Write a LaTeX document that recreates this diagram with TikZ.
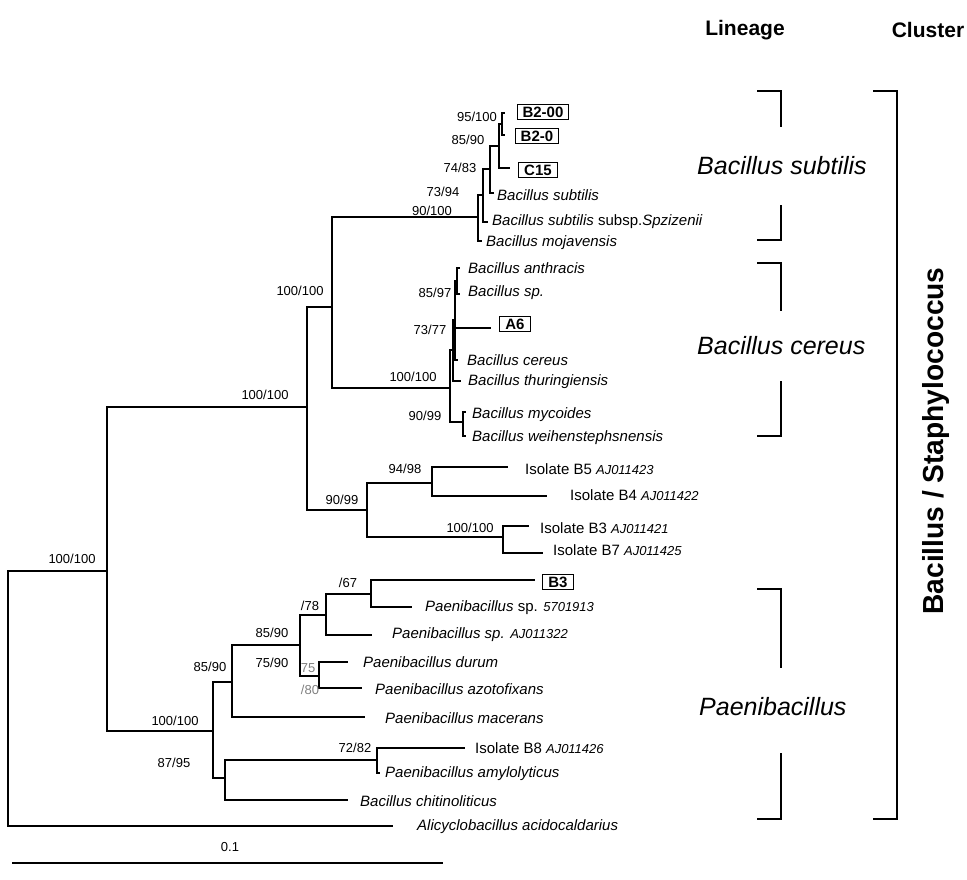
\documentclass[tikz,border=0pt]{standalone}
\usepackage{fontspec}
\setmainfont{Liberation Sans}
\usetikzlibrary{positioning}

\newcommand{\acc}[1]{{\fontsize{13}{15}\selectfont\itshape #1}}

\begin{document}
\begin{tikzpicture}[
  x=1pt, y=-1pt,
  br/.style={line width=1.4pt},
  leaf/.style={font=\fontsize{15}{17}\selectfont\itshape, inner sep=0pt, anchor=west},
  iso/.style={font=\fontsize{15}{17}\selectfont, inner sep=0pt, anchor=west},
  boot/.style={font=\fontsize{13}{15}\selectfont, inner sep=0pt},
  tag/.style={draw, line width=1pt, font=\fontsize{15}{17}\selectfont\bfseries, inner xsep=5.5pt, inner ysep=2.5pt},
  lin/.style={font=\fontsize{25}{29}\selectfont\itshape, inner sep=0pt, anchor=west},
  head/.style={font=\fontsize{21}{24}\selectfont\bfseries, inner sep=0pt},
  brk/.style={line width=1.3pt},
]

\useasboundingbox (0,0) rectangle (967,879);

% internal nodes of the tree
\coordinate (root) at (8,698);
\coordinate (nA) at (107,571);
\coordinate (nB) at (307,407);
\coordinate (nC) at (332,307);
\coordinate (n90) at (478,217);
\coordinate (n73) at (483,195);
\coordinate (n74) at (490,169);
\coordinate (n85) at (499,146);
\coordinate (n95) at (502,124);
\coordinate (ncer) at (450,388);
\coordinate (nU) at (453,350);
\coordinate (n73b) at (455,320);
\coordinate (n85b) at (457,281);
\coordinate (nmy) at (463,422);
\coordinate (nI) at (367,510);
\coordinate (nI1) at (432,483);
\coordinate (nI2) at (503,537);
\coordinate (nP) at (213,731);
\coordinate (nQ) at (232,682);
\coordinate (nS) at (300,645);
\coordinate (nT) at (326,615);
\coordinate (nV) at (371,594);
\coordinate (nW) at (319,676);
\coordinate (nL) at (225,778);
\coordinate (n8) at (377,760);

% leaf tips
\coordinate (t-b200) at (505,113);
\coordinate (t-b20) at (505,135);
\coordinate (t-c15) at (510,168);
\coordinate (t-bsub) at (494,193);
\coordinate (t-spz) at (488,222);
\coordinate (t-moj) at (482,241);
\coordinate (t-anth) at (460,268);
\coordinate (t-bsp) at (460,294);
\coordinate (t-a6) at (491,328);
\coordinate (t-cer) at (458,360);
\coordinate (t-thu) at (461,381);
\coordinate (t-myc) at (466,412);
\coordinate (t-wei) at (466,436);
\coordinate (t-b5) at (508,467);
\coordinate (t-b4) at (547,496);
\coordinate (t-b3) at (529,526);
\coordinate (t-b7) at (543,553);
\coordinate (t-tb3) at (535,580);
\coordinate (t-p57) at (412,607);
\coordinate (t-paj) at (372,635);
\coordinate (t-dur) at (348,662);
\coordinate (t-azo) at (362,688);
\coordinate (t-mac) at (365,717);
\coordinate (t-b8) at (465,748);
\coordinate (t-amy) at (380,773);
\coordinate (t-chi) at (348,800);
\coordinate (t-ali) at (393,826);

% branches
\draw [br] (root) |- (nA);
\draw [br] (root) |- (t-ali);
\draw [br] (nA) |- (nB);
\draw [br] (nA) |- (nP);
\draw [br] (nB) |- (nC);
\draw [br] (nB) |- (nI);
\draw [br] (nC) |- (n90);
\draw [br] (nC) |- (ncer);
\draw [br] (n90) |- (n73);
\draw [br] (n90) |- (t-moj);
\draw [br] (n73) |- (n74);
\draw [br] (n73) |- (t-spz);
\draw [br] (n74) |- (n85);
\draw [br] (n74) |- (t-bsub);
\draw [br] (n85) |- (n95);
\draw [br] (n85) |- (t-c15);
\draw [br] (n95) |- (t-b200);
\draw [br] (n95) |- (t-b20);
\draw [br] (ncer) |- (nU);
\draw [br] (ncer) |- (nmy);
\draw [br] (nU) |- (n73b);
\draw [br] (nU) |- (t-thu);
\draw [br] (n73b) |- (n85b);
\draw [br] (n73b) |- (t-a6);
\draw [br] (n73b) |- (t-cer);
\draw [br] (n85b) |- (t-anth);
\draw [br] (n85b) |- (t-bsp);
\draw [br] (nmy) |- (t-myc);
\draw [br] (nmy) |- (t-wei);
\draw [br] (nI) |- (nI1);
\draw [br] (nI) |- (nI2);
\draw [br] (nI1) |- (t-b5);
\draw [br] (nI1) |- (t-b4);
\draw [br] (nI2) |- (t-b3);
\draw [br] (nI2) |- (t-b7);
\draw [br] (nP) |- (nQ);
\draw [br] (nP) |- (nL);
\draw [br] (nQ) |- (nS);
\draw [br] (nQ) |- (t-mac);
\draw [br] (nS) |- (nT);
\draw [br] (nS) |- (nW);
\draw [br] (nT) |- (nV);
\draw [br] (nT) |- (t-paj);
\draw [br] (nV) |- (t-tb3);
\draw [br] (nV) |- (t-p57);
\draw [br] (nW) |- (t-dur);
\draw [br] (nW) |- (t-azo);
\draw [br] (nL) |- (n8);
\draw [br] (nL) |- (t-chi);
\draw [br] (n8) |- (t-b8);
\draw [br] (n8) |- (t-amy);

% leaf labels
\node [tag] (b200) at (543,112) {B2-00};
\node [tag] (b20) at (537,136) {B2-0};
\node [tag] (c15) at (538,170) {C15};
\node [leaf] (bsub) at (497,195) {Bacillus subtilis};
\node [leaf] (spz) at (492,222) {Bacillus subtilis \upshape subsp.\itshape Spzizenii};
\node [leaf] (moj) at (486,243) {Bacillus mojavensis};
\node [leaf] (anth) at (468,268) {Bacillus anthracis};
\node [leaf] (bsp) at (468,293) {Bacillus sp.};
\node [tag] (a6) at (515,324) {A6};
\node [leaf] (cer) at (467,360) {Bacillus cereus};
\node [leaf] (thu) at (468,382) {Bacillus thuringiensis};
\node [leaf] (myc) at (472,415) {Bacillus mycoides};
\node [leaf] (wei) at (472,438) {Bacillus weihenstephsnensis};
\node [iso] (b5) at (525,469) {Isolate B5 \acc{AJ011423}};
\node [iso] (b4) at (570,495) {Isolate B4 \acc{AJ011422}};
\node [iso] (b3) at (540,528) {Isolate B3 \acc{AJ011421}};
\node [iso] (b7) at (553,550) {Isolate B7 \acc{AJ011425}};
\node [tag] (tb3) at (558,582) {B3};
\node [leaf] (p57) at (425,608) {Paenibacillus \upshape sp. \acc{5701913}};
\node [leaf] (paj) at (392,635) {Paenibacillus sp. \acc{AJ011322}};
\node [leaf] (dur) at (363,662) {Paenibacillus durum};
\node [leaf] (azo) at (375,689) {Paenibacillus azotofixans};
\node [leaf] (mac) at (385,718) {Paenibacillus macerans};
\node [iso] (b8) at (475,748) {Isolate B8 \acc{AJ011426}};
\node [leaf] (amy) at (385,774) {Paenibacillus amylolyticus};
\node [leaf] (chi) at (360,801) {Bacillus chitinoliticus};
\node [leaf] (ali) at (417,827) {Alicyclobacillus acidocaldarius};

% bootstrap values
\node [boot] (s-root) at (72,559) {100/100};
\node [boot] (s-A) at (265,395) {100/100};
\node [boot] (s-B) at (300,291) {100/100};
\node [boot] (s-90) at (432,211) {90/100};
\node [boot] (s-73) at (443,192) {73/94};
\node [boot] (s-74) at (460,168) {74/83};
\node [boot] (s-85) at (468,140) {85/90};
\node [boot] (s-95) at (477,117) {95/100};
\node [boot] (s-cer) at (413,377) {100/100};
\node [boot] (s-85b) at (435,293) {85/97};
\node [boot] (s-73b) at (430,330) {73/77};
\node [boot] (s-my) at (425,416) {90/99};
\node [boot] (s-I1) at (405,469) {94/98};
\node [boot] (s-I) at (342,500) {90/99};
\node [boot] (s-I2) at (470,528) {100/100};
\node [boot] (s-P) at (175,721) {100/100};
\node [boot] (s-L) at (174,763) {87/95};
\node [boot] (s-Q) at (210,667) {85/90};
\node [boot] (s-S) at (272,633) {85/90};
\node [boot] (s-S2) at (272,663) {75/90};
\node [boot] (s-T) at (310,606) {/78};
\node [boot] (s-V) at (348,583) {/67};
\node [boot, gray] (s-W) at (308,668) {75};
\node [boot, gray] (s-W2) at (310,690) {/80};
\node [boot] (s-8) at (355,748) {72/82};

% scale bar
\coordinate (bar0) at (12,863);
\coordinate (bar1) at (443,863);
\draw [line width=1.6pt] (bar0) -- (bar1);
\node [boot] (bar) at (230,847) {0.1};

% lineages and cluster
\node [head] (hlin) at (745,30) {Lineage};
\node [head] (hclu) at (928,30) {Cluster};

\draw [brk] (757,91) -- (781,91) -- (781,127);
\node [lin] (lsub) at (697,166) {Bacillus subtilis};
\draw [brk] (781,205) -- (781,240) -- (757,240);

\draw [brk] (757,263) -- (781,263) -- (781,311);
\node [lin] (lcer) at (697,346) {Bacillus cereus};
\draw [brk] (781,381) -- (781,436) -- (757,436);

\draw [brk] (757,589) -- (781,589) -- (781,668);
\node [lin] (lpae) at (699,707) {Paenibacillus};
\draw [brk] (781,753) -- (781,819) -- (757,819);

\draw [line width=2.7pt] (873,91) -- (897,91) -- (897,819) -- (873,819);
\node [head, rotate=90, font=\fontsize{29}{32}\selectfont\bfseries] (lclu) at (936,441) {\resizebox{347pt}{\height}{Bacillus / Staphylococcus}};

\end{tikzpicture}
\end{document}
